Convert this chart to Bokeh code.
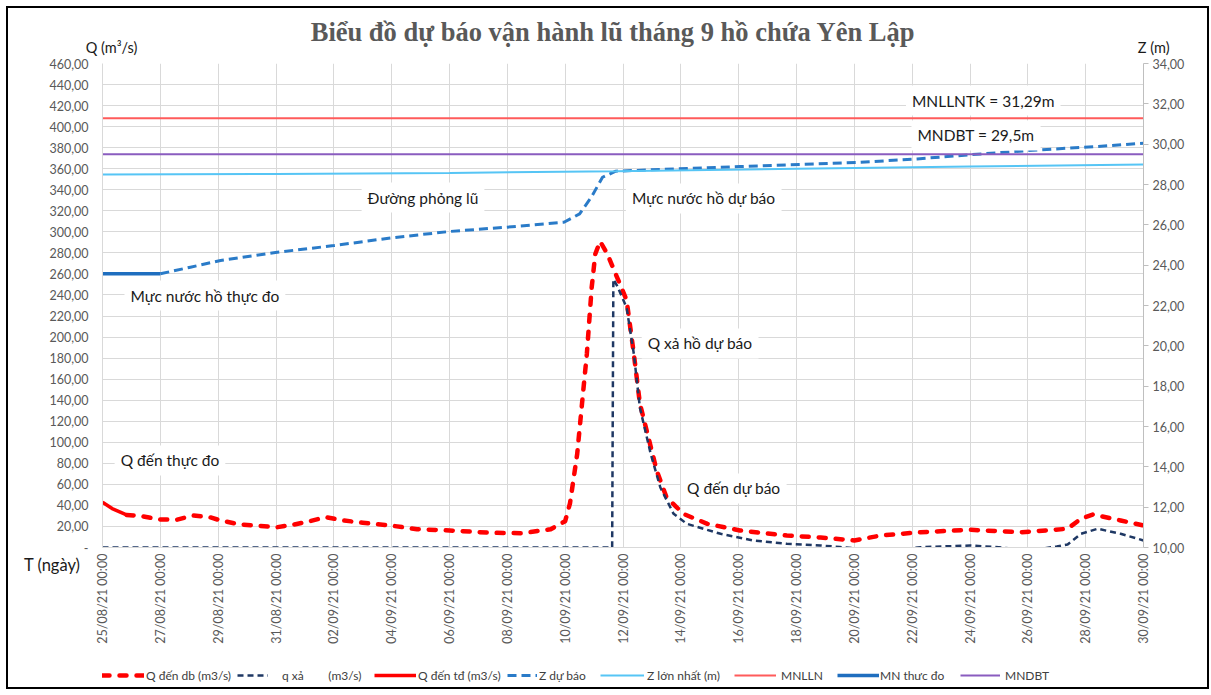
import numpy as np
import pandas as pd
from bokeh.plotting import figure
from bokeh.layouts import column
from bokeh.models import (Range1d, LinearAxis, FixedTicker, DatetimeTickFormatter,
                          Label, Legend, LegendItem)
from bokeh.embed import file_html
from bokeh.resources import INLINE

TF = "%d/%m/%y %H:%M"

# ---------------- data ----------------
title_text = "Biểu đồ dự báo vận hành lũ tháng 9 hồ chứa Yên Lập"
x_tick_labels = ["25/08/21 00:00", "27/08/21 00:00", "29/08/21 00:00", "31/08/21 00:00",
                 "02/09/21 00:00", "04/09/21 00:00", "06/09/21 00:00", "08/09/21 00:00",
                 "10/09/21 00:00", "12/09/21 00:00", "14/09/21 00:00", "16/09/21 00:00",
                 "18/09/21 00:00", "20/09/21 00:00", "22/09/21 00:00", "24/09/21 00:00",
                 "26/09/21 00:00", "28/09/21 00:00", "30/09/21 00:00"]
q_ticks = list(range(0, 461, 20))
z_ticks = list(range(10, 35, 2))

# Q đến thực đo (m3/s)
q_td_time = ["25/08/21 00:00", "25/08/21 08:00", "25/08/21 20:00"]
q_td = [43.0, 37.0, 31.0]

# Q đến dự báo (m3/s)
q_db_time = ["25/08/21 20:00", "26/08/21 07:00", "27/08/21 00:00", "27/08/21 14:00",
             "28/08/21 03:00", "28/08/21 17:00", "29/08/21 02:00", "29/08/21 18:00",
             "31/08/21 01:00", "31/08/21 14:00", "01/09/21 04:00", "01/09/21 17:00",
             "02/09/21 08:00", "03/09/21 00:00", "03/09/21 23:00", "04/09/21 21:00",
             "06/09/21 00:00", "07/09/21 10:00", "08/09/21 13:00", "09/09/21 12:00",
             "10/09/21 00:00", "10/09/21 04:00", "10/09/21 10:00", "10/09/21 14:00",
             "10/09/21 18:00", "10/09/21 22:00", "11/09/21 01:00", "11/09/21 05:00",
             "11/09/21 11:00", "11/09/21 19:00", "12/09/21 03:00", "12/09/21 09:00",
             "12/09/21 14:00", "12/09/21 21:00", "13/09/21 04:00", "13/09/21 12:00",
             "14/09/21 02:00", "14/09/21 22:00", "16/09/21 01:00", "17/09/21 16:00",
             "18/09/21 20:00", "20/09/21 00:00", "20/09/21 22:00", "22/09/21 07:00",
             "24/09/21 00:00", "25/09/21 18:00", "27/09/21 09:00", "27/09/21 20:00",
             "28/09/21 06:00", "29/09/21 05:00", "30/09/21 00:00"]
q_db = [31.0, 30.0, 26.6, 26.5,
        30.4, 28.8, 25.7, 21.9,
        19.3, 21.6, 25.0, 28.8,
        25.7, 23.5, 20.9, 17.4,
        16.2, 14.0, 13.6, 17.4,
        25.0, 42.0, 89.0, 137.0,
        184.0, 247.0, 279.0, 291.0,
        279.0, 257.0, 235.0, 184.0,
        137.0, 105.0, 73.0, 48.0,
        32.0, 22.5, 16.2, 11.4,
        9.5, 6.7, 11.4, 14.5,
        16.8, 14.5, 17.8, 27.3,
        31.4, 25.7, 20.9]

# q xả (m3/s)
q_xa_time = ["25/08/21 00:00", "11/09/21 15:00", "11/09/21 16:00", "11/09/21 19:00",
             "12/09/21 03:00", "12/09/21 09:00", "12/09/21 14:00", "12/09/21 23:00",
             "13/09/21 07:00", "13/09/21 18:00", "14/09/21 05:00", "15/09/21 09:00",
             "16/09/21 12:00", "17/09/21 16:00", "18/09/21 20:00", "19/09/21 12:00",
             "20/09/21 12:00", "21/09/21 12:00", "22/09/21 07:00", "23/09/21 06:00",
             "24/09/21 00:00", "25/09/21 00:00", "25/09/21 18:00", "26/09/21 12:00",
             "27/09/21 00:00", "27/09/21 09:00", "27/09/21 20:00", "28/09/21 10:00",
             "29/09/21 05:00", "30/09/21 00:00"]
q_xa = [0.0, 0.0, 255.0, 249.0,
        228.0, 184.0, 133.0, 89.0,
        57.0, 32.0, 22.5, 13.0,
        6.7, 3.5, 1.9, 0.5,
        -2.0, -2.0, 0.3, 1.2,
        1.9, 0.2, -2.0, -1.0,
        1.0, 2.9, 13.0, 17.8,
        13.0, 6.7]

# MN thực đo (m)
z_td_time = ["25/08/21 00:00", "27/08/21 00:00"]
z_td = [23.57, 23.57]

# Z dự báo (m)
z_db_time = ["27/08/21 00:00", "28/08/21 01:00", "29/08/21 02:00", "31/08/21 01:00",
             "02/09/21 00:00", "03/09/21 23:00", "06/09/21 00:00", "07/09/21 23:00",
             "09/09/21 23:00", "10/09/21 12:00", "10/09/21 22:00", "11/09/21 07:00",
             "11/09/21 18:00", "13/09/21 19:00", "16/09/21 01:00", "20/09/21 05:00",
             "22/09/21 04:00", "24/09/21 10:00", "26/09/21 10:00", "28/09/21 09:00",
             "30/09/21 00:00"]
z_db = [23.57, 23.90, 24.23, 24.64,
        24.97, 25.35, 25.67, 25.88,
        26.13, 26.54, 27.40, 28.36,
        28.66, 28.77, 28.89, 29.10,
        29.27, 29.52, 29.72, 29.88,
        30.05]

# Z lớn nhất (m)
z_max_time = ["25/08/21 00:00", "31/08/21 00:00", "06/09/21 00:00", "11/09/21 18:00",
              "18/09/21 00:00", "24/09/21 00:00", "30/09/21 00:00"]
z_max = [28.50, 28.52, 28.57, 28.66, 28.78, 28.89, 28.99]

# MNLLN, MNDBT (m)
level_time = ["25/08/21 00:00", "30/09/21 00:00"]
mnlln = [31.29, 31.29]
mndbt = [29.5, 29.5]

legend_labels = ["Q đến db (m3/s)", "q xả" + "\u00a0" * 8 + "(m3/s)", "Q đến tđ (m3/s)",
                 "Z dự báo", "Z lớn nhất (m)", "MNLLN", "MN thưc đo", "MNDBT"]

# series styles (shared by chart and legend samples)
STY = {
    "qdb": dict(line_color="#FF0000", line_width=4.5, line_dash="7 10", line_cap="round"),
    "qxa": dict(line_color="#1F3864", line_width=2.5, line_dash="6 4"),
    "qtd": dict(line_color="#FF0000", line_width=3.5),
    "zdb": dict(line_color="#2A7BC8", line_width=3, line_dash="9 5"),
    "zmax": dict(line_color="#56C5F5", line_width=2),
    "mnlln": dict(line_color="#FF5B5B", line_width=2),
    "ztd": dict(line_color="#1F6EBF", line_width=3.5),
    "mndbt": dict(line_color="#8A5CBF", line_width=2),
}


def t(lst):
    return pd.to_datetime(pd.Series(lst), format=TF)


def ms(s):
    return pd.Timestamp(pd.to_datetime(s, format=TF)).value / 1e6


# ---------------- main figure ----------------
xt = t(x_tick_labels)
p = figure(width=1199, height=647, x_axis_type="datetime",
           x_range=Range1d(xt.iloc[0], xt.iloc[-1]), y_range=Range1d(0, 460),
           output_backend="svg", toolbar_location=None,
           min_border_left=94, min_border_right=64, min_border_top=55, min_border_bottom=108)
p.extra_y_ranges = {"z": Range1d(10, 34)}
p.extra_x_ranges = {"cap": Range1d(0, 1041)}
p.outline_line_color = None
p.background_fill_color = "white"
p.border_fill_color = "white"

TICK_FONT = "Lato"
GRAY = "#595959"

# x axis
xticker = FixedTicker(ticks=[v.value / 1e6 for v in xt])
p.xaxis.ticker = xticker
p.xaxis.formatter = DatetimeTickFormatter(
    microseconds=TF, milliseconds=TF, seconds=TF, minsec=TF, minutes=TF,
    hourmin=TF, hours=TF, days=TF, months=TF, years=TF)
p.xaxis.major_label_orientation = np.pi / 2
p.xaxis.major_label_text_font = TICK_FONT
p.xaxis.major_label_text_font_size = "12.5px"
p.xaxis.major_label_text_color = GRAY
p.xaxis.major_label_standoff = 6
p.xaxis.major_tick_out = 0
p.xaxis.axis_line_color = "#D9D9D9"
p.xaxis.major_tick_line_color = None
p.xaxis.minor_tick_line_color = None

# left axis
p.yaxis.ticker = FixedTicker(ticks=q_ticks)
p.yaxis.major_label_overrides = {v: ("-" if v == 0 else f"{v:.2f}".replace(".", ",")) for v in q_ticks}
p.yaxis.major_label_text_font = TICK_FONT
p.yaxis.major_label_text_font_size = "12.5px"
p.yaxis.major_label_text_color = GRAY
p.yaxis.major_label_standoff = 14
p.yaxis.major_tick_out = 0
p.yaxis.axis_line_color = "#D9D9D9"
p.yaxis.major_tick_line_color = None
p.yaxis.minor_tick_line_color = None

# outer left axis carrying the time caption under the Q axis
taxis = LinearAxis(ticker=FixedTicker(ticks=[0]))
taxis.major_label_overrides = {0: "\nT (ngày)"}
taxis.major_label_text_baseline = "top"
taxis.major_label_text_line_height = 1.7
taxis.major_label_text_font = "Lato"
taxis.major_label_text_font_size = "16.5px"
taxis.major_label_text_color = "#1A1A1A"
taxis.major_label_standoff = -34
taxis.major_tick_out = 0
taxis.major_tick_in = 0
taxis.axis_line_color = None
taxis.major_tick_line_color = None
taxis.minor_tick_line_color = None
p.add_layout(taxis, "left")

# right axis
zaxis = LinearAxis(y_range_name="z", ticker=FixedTicker(ticks=z_ticks))
zaxis.major_label_overrides = {v: f"{v:.2f}".replace(".", ",") for v in z_ticks}
zaxis.major_label_text_font = TICK_FONT
zaxis.major_label_text_font_size = "12.5px"
zaxis.major_label_text_color = GRAY
zaxis.major_label_standoff = 4
zaxis.axis_line_color = "#BFBFBF"
zaxis.major_tick_line_color = "#BFBFBF"
zaxis.major_tick_out = 5
zaxis.major_tick_in = 0
zaxis.minor_tick_line_color = None
p.add_layout(zaxis, "right")

# top caption axis: axis captions as tick labels, chart title as axis label
cap = LinearAxis(x_range_name="cap", ticker=FixedTicker(ticks=[9, 1040]))
cap.major_label_overrides = {9: "Q (m³/s)", 1040: "\u00a0" * 6 + "Z (m)"}
cap.major_label_text_font = "Lato"
cap.major_label_text_font_size = "14.5px"
cap.major_label_text_color = "#1A1A1A"
cap.major_label_standoff = 8
cap.major_tick_out = 0
cap.axis_line_color = None
cap.major_tick_line_color = None
cap.minor_tick_line_color = None
cap.axis_label = title_text + "\u00a0\u00a0\u00a0"
cap.axis_label_text_font = "Liberation Serif"
cap.axis_label_text_font_style = "bold"
cap.axis_label_text_font_size = "26.5px"
cap.axis_label_text_color = "#595959"
cap.axis_label_standoff = -11
p.add_layout(cap, "above")

p.xgrid.ticker = xticker
p.ygrid.ticker = FixedTicker(ticks=q_ticks)
p.xgrid.grid_line_color = "#D9D9D9"
p.ygrid.grid_line_color = "#D9D9D9"

# ---------------- series ----------------
p.line(t(q_db_time), q_db, line_join="round", **STY["qdb"])
p.line(t(q_xa_time), q_xa, **STY["qxa"])
p.line(t(q_td_time), q_td, **STY["qtd"])
p.line(t(z_db_time), z_db, y_range_name="z", **STY["zdb"])
p.line(t(z_max_time), z_max, y_range_name="z", **STY["zmax"])
p.line(t(level_time), mnlln, y_range_name="z", **STY["mnlln"])
p.line(t(z_td_time), z_td, y_range_name="z", **STY["ztd"])
p.line(t(level_time), mndbt, y_range_name="z", **STY["mndbt"])

# ---------------- in-plot annotations ----------------
def ann(text, when, q):
    lab = Label(x=ms(when), y=q, text=text, text_align="center",
                text_baseline="middle", text_font="Lato", text_font_size="15.5px",
                text_color="#1A1A1A", background_fill_color="white", padding=6)
    p.add_layout(lab)


ann("MNLLNTK = 31,29m", "24/09/21 11:00", 424.8)
ann("MNDBT = 29,5m", "24/09/21 05:00", 391.6)
ann("Đường phỏng lũ", "05/09/21 02:00", 332.6)
ann("Mực nước hồ dự báo", "14/09/21 19:00", 331.7)
ann("Mực nước hồ thực đo", "28/08/21 13:00", 239.5)
ann("Q xả hồ dự báo", "14/09/21 16:00", 193.9)
ann("Q đến thực đo", "27/08/21 08:00", 82.7)
ann("Q đến dự báo", "15/09/21 20:00", 56.1)

# ---------------- legend strip (its frame is aligned with the chart frame) ----------------
pl = figure(width=1199, height=32, x_range=Range1d(0, 1), y_range=Range1d(0, 1),
            output_backend="svg", toolbar_location=None,
            x_axis_location=None, y_axis_location=None, min_border=0)
pl.outline_line_color = None
pl.background_fill_color = "white"
pl.border_fill_color = "white"
pl.xgrid.visible = False
pl.ygrid.visible = False

leg_keys = ["qdb", "qxa", "qtd", "zdb", "zmax", "mnlln", "ztd", "mndbt"]
leg_pos = [(0, 42, 2), (135, 31, 14), (272, 42, 2), (405, 30, 2),
           (498, 44, 3), (632, 42, 5), (735, 42, 1), (858, 40, 5)]
for key, lab, (vx, gw, so) in zip(leg_keys, legend_labels, leg_pos):
    r = pl.line([np.nan, np.nan], [np.nan, np.nan], **STY[key])
    pl.add_layout(Legend(items=[LegendItem(label=lab, renderers=[r])],
                         location=(vx, 4), orientation="horizontal",
                         glyph_width=gw, glyph_height=16, label_height=16,
                         label_standoff=so, padding=0, margin=0,
                         border_line_color=None, background_fill_alpha=0,
                         label_text_font="Lato", label_text_font_size="12px",
                         label_text_color="#404040"))

layout = column(p, pl, spacing=0,
                styles={"border": "2px solid #000000", "margin": "6px 0 0 6px"})

open("out.html", "w").write(file_html(layout, INLINE))
